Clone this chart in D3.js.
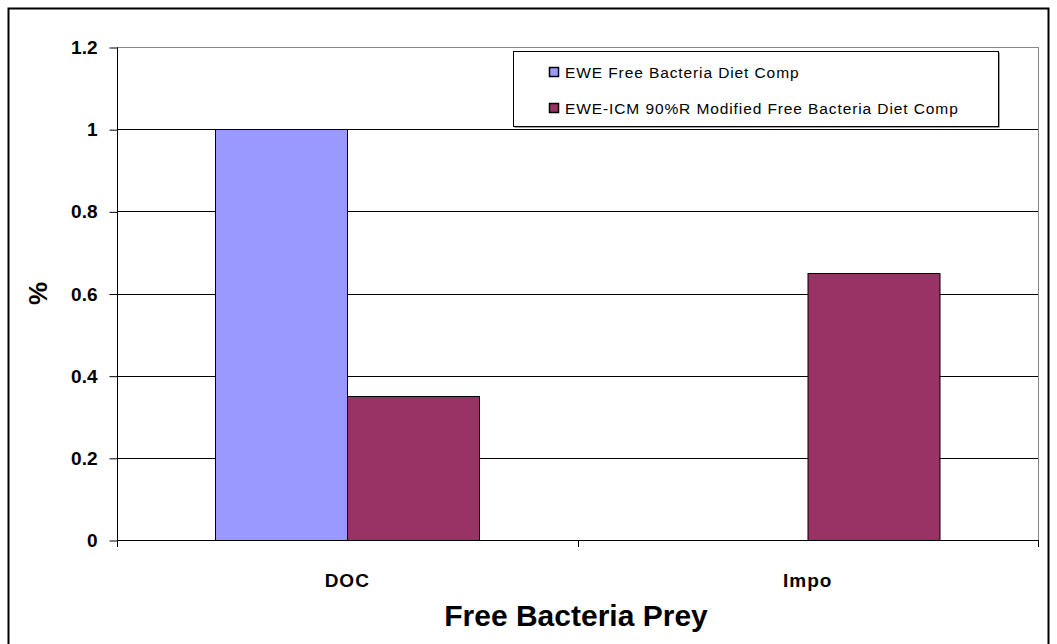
<!DOCTYPE html>
<html>
<head>
<meta charset="utf-8">
<script src="https://cdn.jsdelivr.net/npm/d3@7"></script>
<style>
  body { margin: 0; background: #fff; }
  text { font-family: "Liberation Sans", Arial, sans-serif; }
</style>
</head>
<body>
<div id="chart"></div>
<script>
var categories = ["DOC", "Impo"];
var seriesNames = ["EWE Free Bacteria Diet Comp", "EWE-ICM 90%R Modified Free Bacteria Diet Comp"];
var ewe = [1, 0];
var eweIcm = [0.35, 0.65];
var yTicks = [0, 0.2, 0.4, 0.6, 0.8, 1, 1.2];
var colors = ["#9999FF", "#993366"];

var width = 1057, height = 644;
var margin = {left: 117, right: 1038, top: 47, bottom: 540};

var svg = d3.select("#chart").append("svg")
    .attr("width", width)
    .attr("height", height);

svg.append("rect")
    .attr("x", 8.5).attr("y", 8.5)
    .attr("width", 1040).attr("height", 640)
    .attr("fill", "#fff")
    .attr("stroke", "#000")
    .attr("stroke-width", 2);

var x0 = d3.scaleBand()
    .domain(categories)
    .range([margin.left, margin.right])
    .paddingInner(0)
    .paddingOuter(0);

var x1 = d3.scaleBand()
    .domain([0, 1])
    .range([0, x0.bandwidth()])
    .paddingInner(0)
    .paddingOuter(0.742);

var y = d3.scaleLinear()
    .domain([0, 1.2])
    .range([margin.bottom, margin.top]);

// gridlines
svg.append("g").selectAll("line").data(yTicks.slice(1)).enter().append("line")
    .attr("x1", margin.left).attr("x2", margin.right)
    .attr("y1", function(d) { return Math.round(y(d)) + 0.5; })
    .attr("y2", function(d) { return Math.round(y(d)) + 0.5; })
    .attr("stroke", function(d) { return d === 1.2 ? "#888" : "#000"; })
    .attr("stroke-width", 1);

// right border of plot area
svg.append("line")
    .attr("x1", margin.right + 0.5).attr("x2", margin.right + 0.5)
    .attr("y1", margin.top).attr("y2", margin.bottom)
    .attr("stroke", "#888");

// bars
var rows = categories.map(function(c, i) { return {cat: c, vals: [ewe[i], eweIcm[i]]}; });
var groups = svg.append("g").selectAll("g").data(rows).enter().append("g")
    .attr("transform", function(d) { return "translate(" + x0(d.cat) + ",0)"; });

groups.selectAll("rect")
    .data(function(d) { return d.vals.map(function(v, j) { return {v: v, j: j}; }); })
    .enter().filter(function(d) { return d.v > 0; }).append("rect")
    .attr("x", function(d) { return Math.round(x1(d.j)) + 0.5; })
    .attr("y", function(d) { return Math.round(y(d.v)) + 0.5; })
    .attr("width", function(d) { return Math.round(x1.bandwidth()); })
    .attr("height", function(d) { return Math.round(y(0)) - Math.round(y(d.v)); })
    .attr("fill", function(d) { return colors[d.j]; })
    .attr("stroke", "#000")
    .attr("stroke-width", 1);

// y axis
var yAxis = d3.axisLeft(y)
    .tickValues(yTicks)
    .tickSize(8)
    .tickPadding(12)
    .tickFormat(function(d) { return d; });

var gY = svg.append("g")
    .attr("transform", "translate(" + (margin.left + 0.5) + ",0.5)")
    .call(yAxis);
gY.select(".domain").attr("stroke", "#000").attr("d", "M-0,"+margin.top+"V"+(margin.bottom+6));
gY.selectAll("text")
    .attr("font-size", 19)
    .attr("font-weight", "bold")
    .attr("font-family", "Liberation Sans, Arial, sans-serif")
    .attr("fill", "#000");

// x axis
var xAxis = d3.axisBottom(x0).tickSize(0).tickPadding(33);
var gX = svg.append("g")
    .attr("transform", "translate(0," + (margin.bottom + 0.5) + ")")
    .call(xAxis);
gX.select(".domain").attr("stroke", "#000").attr("d", "M" + margin.left + ",0H" + margin.right);
gX.selectAll("text")
    .attr("font-size", 19)
    .attr("font-weight", "bold")
    .attr("letter-spacing", 1)
    .attr("font-family", "Liberation Sans, Arial, sans-serif")
    .attr("fill", "#000");

// x ticks at category boundaries
var bounds = [margin.left, margin.left + x0.bandwidth(), margin.right];
svg.append("g").selectAll("line").data(bounds).enter().append("line")
    .attr("x1", function(d) { return Math.round(d) + 0.5; })
    .attr("x2", function(d) { return Math.round(d) + 0.5; })
    .attr("y1", margin.bottom).attr("y2", margin.bottom + 7)
    .attr("stroke", "#000");

// axis titles
svg.append("text")
    .attr("x", 576)
    .attr("y", 626)
    .attr("text-anchor", "middle")
    .attr("font-size", 30)
    .attr("font-weight", "bold")
    .text("Free Bacteria Prey");

svg.append("text")
    .attr("transform", "translate(47," + ((margin.top + margin.bottom) / 2) + ") rotate(-90)")
    .attr("text-anchor", "middle")
    .attr("font-size", 26)
    .attr("font-weight", "bold")
    .text("%");

// legend
var legend = svg.append("g").attr("transform", "translate(513,51)");
legend.append("rect")
    .attr("x", 1.5).attr("y", 1.5)
    .attr("width", 485).attr("height", 75)
    .attr("fill", "#444");
legend.append("rect")
    .attr("x", 0.5).attr("y", 0.5)
    .attr("width", 485).attr("height", 75)
    .attr("fill", "#fff")
    .attr("stroke", "#000");

var items = legend.selectAll("g.item").data(seriesNames).enter().append("g")
    .attr("class", "item")
    .attr("transform", function(d, i) { return "translate(36," + (21 + i * 36) + ")"; });
items.append("rect")
    .attr("x", 0.5).attr("y", -4.5)
    .attr("width", 9).attr("height", 9)
    .attr("fill", function(d, i) { return colors[i]; })
    .attr("stroke", "#000")
    .attr("stroke-width", 1.5);
items.append("text")
    .attr("x", 16).attr("y", 6)
    .attr("font-size", 15.5)
    .attr("letter-spacing", 0.9)
    .attr("fill", "#000")
    .text(function(d) { return d; });
</script>
</body>
</html>
